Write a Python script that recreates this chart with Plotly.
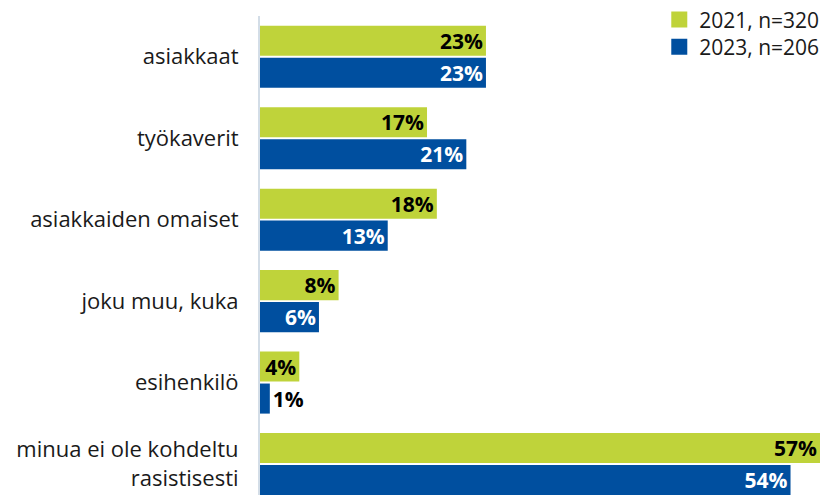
import plotly.graph_objects as go

green = "#bfd33a"
blue = "#004f9f"
axis_color = "#d3dde7"
font_family = "Open Sans"

categories = [
    "asiakkaat",
    "työkaverit",
    "asiakkaiden omaiset",
    "joku muu, kuka",
    "esihenkilö",
    "minua ei ole kohdeltu<br>rasistisesti",
]
values_2021 = [23, 17, 18, 8, 4, 57]
values_2023 = [23, 21, 13, 6, 1, 54]
name_2021 = "2021, n=320"
name_2023 = "2023, n=206"


def _positions(values, min_inside=3):
    # tiny bars get the label outside
    return ["outside" if v < min_inside else "inside" for v in values]


label_font = dict(size=21, family=font_family, weight="bold")

fig = go.Figure()
for values, name, color, text_color, legend in [
    (values_2021, name_2021, green, "black", "legend"),
    (values_2023, name_2023, blue, "white", "legend2"),
]:
    fig.add_trace(go.Bar(
        y=categories, x=values, orientation="h", name=name,
        marker=dict(color=color, line=dict(width=0)),
        text=[f"{v}%" for v in values], textposition=_positions(values),
        insidetextanchor="end", constraintext="none",
        insidetextfont=dict(color=text_color, **label_font),
        outsidetextfont=dict(color="black", **label_font),
        showlegend=False,
    ))
    # legend-only trace so the swatch can be a bigger square
    fig.add_trace(go.Scatter(
        x=[None], y=[None], mode="markers", name=name, legend=legend,
        marker=dict(symbol="square", size=16, color=color),
    ))

legend_style = dict(
    xref="paper", x=0.713, xanchor="left", yanchor="middle",
    font=dict(size=21, color="#1a1a1a"), bgcolor="rgba(0,0,0,0)",
)

# page body has an 8px margin, so the figure is shrunk by 8px to fit the window
fig.update_layout(
    width=832, height=487,
    barmode="group", bargap=0.215, bargroupgap=0.06,
    font=dict(family=font_family, size=22, color="#1a1a1a"),
    paper_bgcolor="white", plot_bgcolor="white",
    margin=dict(l=252, r=20, t=8, b=0, autoexpand=False),
    legend=dict(y=0.992, **legend_style),
    legend2=dict(y=0.935, **legend_style),
)
fig.update_xaxes(range=[0, 57], visible=False, showgrid=False, zeroline=False)
fig.update_yaxes(
    range=[5.38, -0.5], showgrid=False, zeroline=False,
    showline=True, linecolor=axis_color, linewidth=2,
    ticks="", ticklabelstandoff=15, automargin=False,
    tickfont=dict(size=22, color="#1a1a1a"),
)

fig.write_html("out.html")
